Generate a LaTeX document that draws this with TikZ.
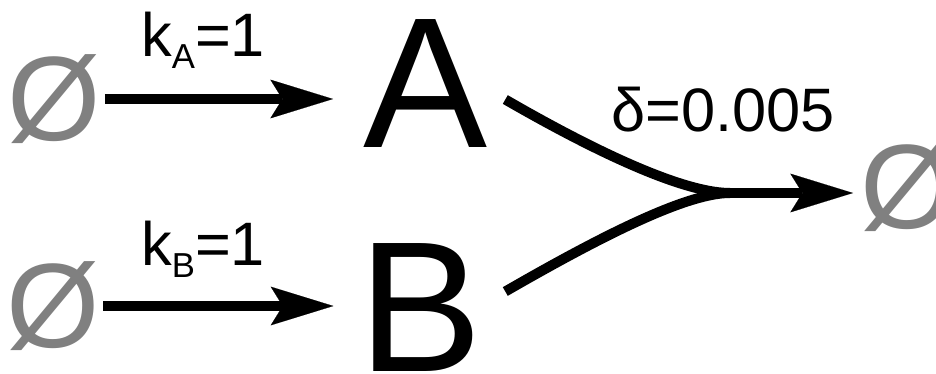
\documentclass[tikz,border=0pt]{standalone}
\usepackage{fontspec}
\setmainfont{Liberation Sans}
\usepackage{xcolor}
\usetikzlibrary{positioning, arrows.meta}

\definecolor{nullgray}{HTML}{808080}
\newcommand{\bigsize}{\fontsize{139.5pt}{140pt}\selectfont}
\newcommand{\nullsize}{\fontsize{90pt}{91pt}\selectfont}
\newcommand{\ratesize}{\fontsize{46pt}{47pt}\selectfont}
\newcommand{\subsize}{\fontsize{26pt}{27pt}\selectfont}
\newcommand{\ratesub}[1]{\raisebox{-8.7pt}{\subsize #1}}

\begin{document}
\begin{tikzpicture}[x=0.75pt, y=-0.75pt,
    species/.style={inner sep=0pt, font=\bigsize, anchor=base},
    nullset/.style={inner sep=0pt, font=\nullsize, text=nullgray},
    rate/.style={inner sep=0pt, font=\ratesize, anchor=base west},
    rxn/.style={line width=7.5pt, -{Stealth[length=47pt, width=29pt, inset=9pt, line width=0.1pt]}},
    decay/.style={line width=7.5pt, out distance=96pt, in distance=29.5pt, in=180}]
    \useasboundingbox (0,0) rectangle (936,374);

    % Species and sources
    \node (A) [species] at (426,148) {A};
    \node (B) [species] at (421,371) {B};
    \node (srcA) [nullset] at (54,99) {Ø};
    \node (srcB) [nullset] at (53,306) {Ø};
    \node (sink) [nullset] at (907,187) {Ø};
    \coordinate (mrg) at (730,193);

    % Rate labels
    \node (kA) [rate] at (141,57) {k\ratesub{A}=1};
    \node (kB) [rate] at (141,266) {k\ratesub{B}=1};
    \node (dlt) [rate] at (611,132) {δ=0.005};

    % Production
    \draw[rxn, shorten <=3pt, shorten >=23pt] (srcA) -- (srcA -| A.west);
    \draw[rxn, shorten <=2.5pt, shorten >=19pt] (srcB) -- (srcB -| B.west);

    % Degradation
    \draw[decay] ([shift={(17,15.5)}]A.east) to[out=-30] (mrg);
    \draw[decay] ([shift={(22,-15.5)}]B.east) to[out=30] (mrg);
    \draw[rxn, shorten >=40.5pt] (mrg) -- (mrg -| sink);
\end{tikzpicture}
\end{document}
